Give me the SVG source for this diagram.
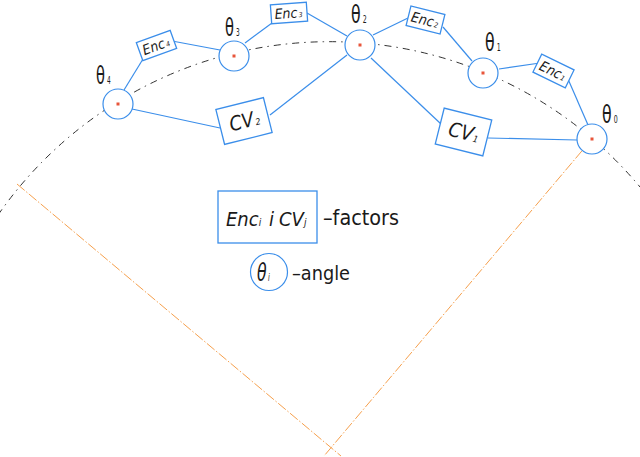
<svg xmlns="http://www.w3.org/2000/svg" width="640" height="457" viewBox="0 0 640 457">
<style>
.bx{fill:#fff;stroke:#3b8eea;stroke-width:1.3}
.nd{fill:#fff;stroke:#3b8eea;stroke-width:1.2}
.cn{stroke:#3b8eea;stroke-width:1.2;fill:none}
.dot{fill:#e8553a}
.t{font-family:"DejaVu Sans Condensed","DejaVu Sans",sans-serif;fill:#1a1a1a}
.it{font-style:italic}
.th{font-size:25px}
.ths{font-size:10px}
.arc{fill:none;stroke:#333;stroke-width:1;stroke-dasharray:7 5 1.5 5}
.rad{fill:none;stroke:#f6a04d;stroke-width:1;stroke-dasharray:10 2 1.5 2}
</style>
<rect width="640" height="457" fill="#fff"/>
<g id="construction">
<path class="arc" d="M -2,215 A 404 404 0 0 1 640,187"/>
<line class="rad" x1="17" y1="184" x2="341" y2="456"/>
<line class="rad" x1="592" y1="139" x2="324" y2="456"/>
</g>
<g id="connectors">
<line class="cn" x1="124" y1="90" x2="143" y2="59"/>
<line class="cn" x1="172" y1="41" x2="220" y2="50"/>
<line class="cn" x1="245" y1="43" x2="272" y2="23"/>
<line class="cn" x1="307" y1="13" x2="347" y2="36"/>
<line class="cn" x1="373" y1="35" x2="408" y2="18"/>
<line class="cn" x1="443" y1="27" x2="472" y2="61"/>
<line class="cn" x1="499" y1="69" x2="540" y2="63"/>
<line class="cn" x1="568" y1="79" x2="588" y2="125"/>
<line class="cn" x1="488" y1="138" x2="577" y2="140"/>
<line class="cn" x1="371" y1="58" x2="441" y2="124"/>
<line class="cn" x1="347" y1="55" x2="270" y2="115"/>
<line class="cn" x1="132" y1="109" x2="220" y2="128"/>
</g>
<g id="theta4">
<circle class="nd" cx="118" cy="104" r="15"/><rect class="dot" x="116.5" y="102.5" width="3" height="3"/>
<text class="t th" transform="translate(96,84) scale(0.65,1)">θ<tspan class="ths" dx="3">4</tspan></text>
</g>
<g id="theta3">
<circle class="nd" cx="234" cy="56" r="15"/><rect class="dot" x="232.5" y="54.5" width="3" height="3"/>
<text class="t th" transform="translate(225,36) scale(0.65,1)">θ<tspan class="ths" dx="3">3</tspan></text>
</g>
<g id="theta2">
<circle class="nd" cx="360" cy="45" r="15"/><rect class="dot" x="358.5" y="43.5" width="3" height="3"/>
<text class="t th" transform="translate(351,23) scale(0.7,1)">θ<tspan class="ths" dx="3">2</tspan></text>
</g>
<g id="theta1">
<circle class="nd" cx="483" cy="73" r="15"/><rect class="dot" x="481.5" y="71.5" width="3" height="3"/>
<text class="t th" transform="translate(485,51) scale(0.7,1)">θ<tspan class="ths" dx="3">1</tspan></text>
</g>
<g id="theta0">
<circle class="nd" cx="592" cy="139" r="15"/><rect class="dot" x="590.5" y="137.5" width="3" height="3"/>
<text class="t th" transform="translate(602,123) scale(0.7,1)">θ<tspan class="ths" dx="3">0</tspan></text>
</g>
<g id="enc4" transform="translate(156.5,45.5) rotate(-20)">
<rect class="bx" x="-18" y="-9.5" width="36" height="19"/>
<text class="t it" x="-14.5" y="5" font-size="14">Enc<tspan font-size="7" dx="1">4</tspan></text>
</g>
<g id="enc3" transform="translate(289,13) rotate(-4)">
<rect class="bx" x="-18" y="-9.5" width="36" height="19"/>
<text class="t it" x="-14.5" y="5" font-size="14">Enc<tspan font-size="7" dx="1">3</tspan></text>
</g>
<g id="enc2" transform="translate(425.5,20) rotate(14)">
<rect class="bx" x="-17.5" y="-10" width="35" height="20"/>
<text class="t it" x="-14.5" y="5" font-size="14">Enc<tspan font-size="7" dx="1">2</tspan></text>
</g>
<g id="enc1" transform="translate(553.5,71) rotate(26)">
<rect class="bx" x="-18" y="-10" width="36" height="20"/>
<text class="t it" x="-14.5" y="5" font-size="14">Enc<tspan font-size="7" dx="1">1</tspan></text>
</g>
<g id="cv2" transform="translate(244,121) rotate(-14)">
<rect class="bx" x="-24.5" y="-18" width="49" height="36"/>
<text class="t it" x="-15" y="7" font-size="20">CV<tspan font-size="9" dx="1">2</tspan></text>
</g>
<g id="cv1" transform="translate(463.5,132) rotate(14)">
<rect class="bx" x="-24.5" y="-18.5" width="49" height="37"/>
<text class="t it" x="-15" y="7" font-size="20">CV<tspan font-size="9" dx="1">1</tspan></text>
</g>
<g id="legend-factors">
<rect class="bx" x="218" y="191" width="99" height="52"/>
<text class="t it" x="226" y="226" font-size="20">Enc<tspan font-size="10">i</tspan><tspan x="269">i</tspan><tspan x="279">CV</tspan><tspan font-size="10">j</tspan></text>
<text class="t" x="323" y="225" font-size="21" textLength="76" lengthAdjust="spacingAndGlyphs">–factors</text>
</g>
<g id="legend-angle">
<circle class="nd" cx="269" cy="272" r="18.5"/>
<text class="t it th" transform="translate(257,281) scale(0.7,1)">θ<tspan class="ths" dx="2">i</tspan></text>
<text class="t" x="292" y="280" font-size="20" textLength="58" lengthAdjust="spacingAndGlyphs">–angle</text>
</g>
</svg>
